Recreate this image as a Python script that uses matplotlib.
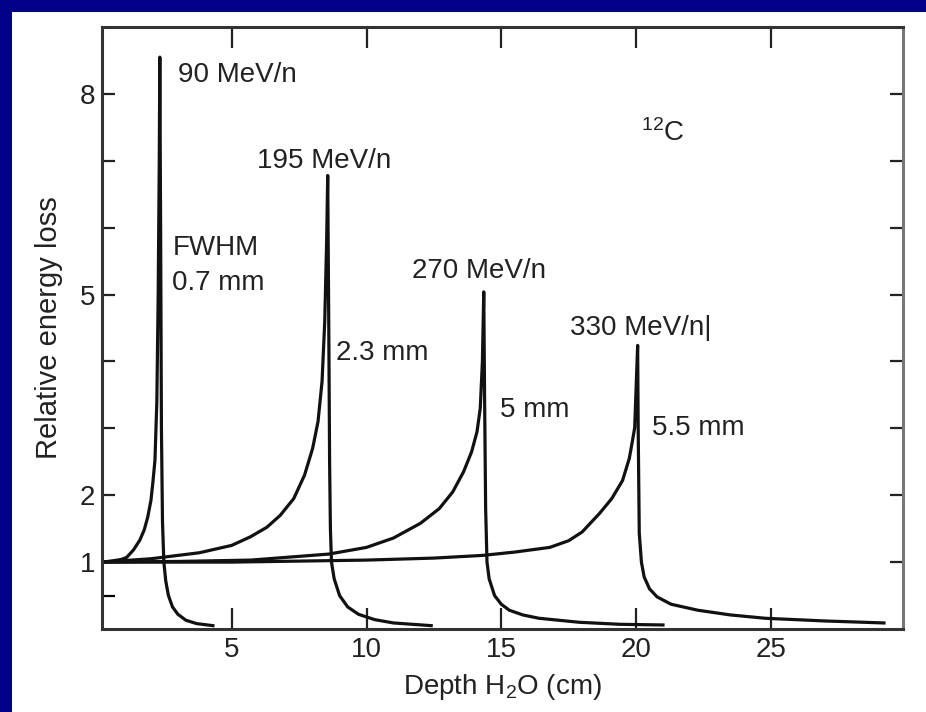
import matplotlib
matplotlib.use('Agg')
import matplotlib.pyplot as plt
from matplotlib.patches import Rectangle

plt.rcParams['font.family'] = ['Liberation Sans', 'DejaVu Sans']
plt.rcParams['mathtext.fontset'] = 'custom'
plt.rcParams['mathtext.rm'] = 'Liberation Sans'
plt.rcParams['mathtext.it'] = 'Liberation Sans'

# Bragg curves of 12C in water (depth in cm, relative energy loss)
depth_90 = [0.2, 0.6, 0.9, 1.1, 1.35, 1.59, 1.75, 1.88, 2.0, 2.07, 2.15, 2.22, 2.27,
            2.31, 2.33, 2.36, 2.39, 2.43, 2.48, 2.55, 2.65, 2.8, 3.0, 3.3, 3.7, 4.3]
dose_90 = [1.0, 1.02, 1.04, 1.07, 1.18, 1.33, 1.48, 1.67, 1.92, 2.18, 2.52, 3.4, 5.0,
           7.0, 8.55, 6.0, 3.0, 1.6, 1.0, 0.72, 0.5, 0.33, 0.22, 0.13, 0.08, 0.05]

depth_195 = [0.2, 2.0, 3.8, 5.0, 5.7, 6.3, 6.8, 7.3, 7.7, 8.0, 8.2, 8.35, 8.45, 8.52,
             8.56, 8.6, 8.63, 8.66, 8.7, 8.8, 9.0, 9.3, 9.7, 10.3, 11.0, 11.7, 12.4]
dose_195 = [1.0, 1.05, 1.14, 1.25, 1.38, 1.52, 1.7, 1.95, 2.3, 2.7, 3.1, 3.7, 4.6, 5.8,
            6.78, 4.5, 2.5, 1.5, 1.0, 0.75, 0.5, 0.33, 0.22, 0.14, 0.09, 0.07, 0.05]

depth_270 = [0.2, 3.0, 5.7, 8.6, 10.0, 11.0, 12.0, 12.7, 13.2, 13.6, 13.9, 14.1, 14.22,
             14.3, 14.35, 14.38, 14.42, 14.47, 14.55, 14.75, 15.0, 15.3, 15.8, 16.4,
             17.9, 19.4, 21.0]
dose_270 = [1.0, 1.01, 1.03, 1.12, 1.22, 1.36, 1.58, 1.8, 2.05, 2.35, 2.65, 2.95, 3.3,
            4.0, 5.04, 3.5, 1.8, 1.0, 0.75, 0.5, 0.37, 0.28, 0.21, 0.16,
            0.1, 0.07, 0.06]

depth_330 = [0.2, 5.0, 10.0, 12.5, 14.3, 15.5, 16.8, 17.5, 18.0, 18.65, 19.1, 19.5,
             19.75, 19.87, 19.95, 20.02, 20.06, 20.08, 20.12, 20.2, 20.3, 20.5, 20.78,
             21.3, 22.3, 23.5, 24.8, 27.0, 29.2]
dose_330 = [1.0, 1.0, 1.03, 1.06, 1.1, 1.15, 1.22, 1.32, 1.45, 1.73, 1.95, 2.22,
            2.55, 2.82, 3.01, 3.8, 4.24, 3.0, 1.43, 1.0, 0.78, 0.6, 0.48,
            0.37, 0.28, 0.21, 0.16, 0.12, 0.09]

xticks = [5, 10, 15, 20, 25]
yticks = [1, 2, 3, 4, 5, 6, 7, 8]
ytick_labels = ['1', '2', '', '', '5', '', '', '8']

fig = plt.figure(figsize=(9.26, 7.12), dpi=100, facecolor='#000088')
fig.patches.append(Rectangle((12 / 926, 0), 1, 700 / 712, transform=fig.transFigure,
                             facecolor='white', edgecolor='none', zorder=-10))
ax = fig.add_axes([0.110, 0.1166, 0.865, 0.8454])
ax.set_zorder(1)

for d, e in [(depth_90, dose_90), (depth_195, dose_195),
             (depth_270, dose_270), (depth_330, dose_330)]:
    ax.plot(d, e, color='#111111', lw=2.3, solid_joinstyle='round')

ax.set_xlim(0.18, 29.9)
ax.set_ylim(0, 9)
ax.set_xticks(xticks)
ax.set_yticks(yticks)
ax.set_yticklabels(ytick_labels)
ax.set_yticks([0.5], minor=True)
ax.tick_params(axis='x', direction='in', length=15, width=1.6, top=True,
               labelsize=20, pad=6, colors='#222222')
ax.tick_params(axis='y', direction='in', length=9.5, width=1.6, right=True,
               labelsize=20, pad=5, colors='#222222')
ax.tick_params(axis='y', which='minor', direction='in', length=9.5, width=1.6,
               right=False)
for s in ax.spines.values():
    s.set_linewidth(2.2)
    s.set_color('#333333')
ax.spines['right'].set_color('#777777')

ax.set_xlabel('Depth H$_\\mathregular{2}$O (cm)', fontsize=20, color='#222222', labelpad=6)
ax.set_ylabel('Relative energy loss', fontsize=21, color='#222222', labelpad=12)

txt = dict(fontsize=20, color='#222222', va='center', ha='left')
ax.text(3.0, 8.28, '90 MeV/n', **txt)
ax.text(5.95, 7.0, '195 MeV/n', **txt)
ax.text(2.8, 5.69, 'FWHM', **txt)
ax.text(2.8, 5.18, '0.7 mm', **txt)
ax.text(11.7, 5.36, '270 MeV/n', **txt)
ax.text(8.85, 4.12, '2.3 mm', **txt)
ax.text(17.55, 4.5, '330 MeV/n|', **txt)
ax.text(14.95, 3.27, '5 mm', **txt)
ax.text(20.6, 3.0, '5.5 mm', **txt)
ax.text(20.2, 7.42, '$^{\\mathregular{12}}$C', **txt)

fig.savefig('out.png', dpi=100, facecolor=fig.get_facecolor())
